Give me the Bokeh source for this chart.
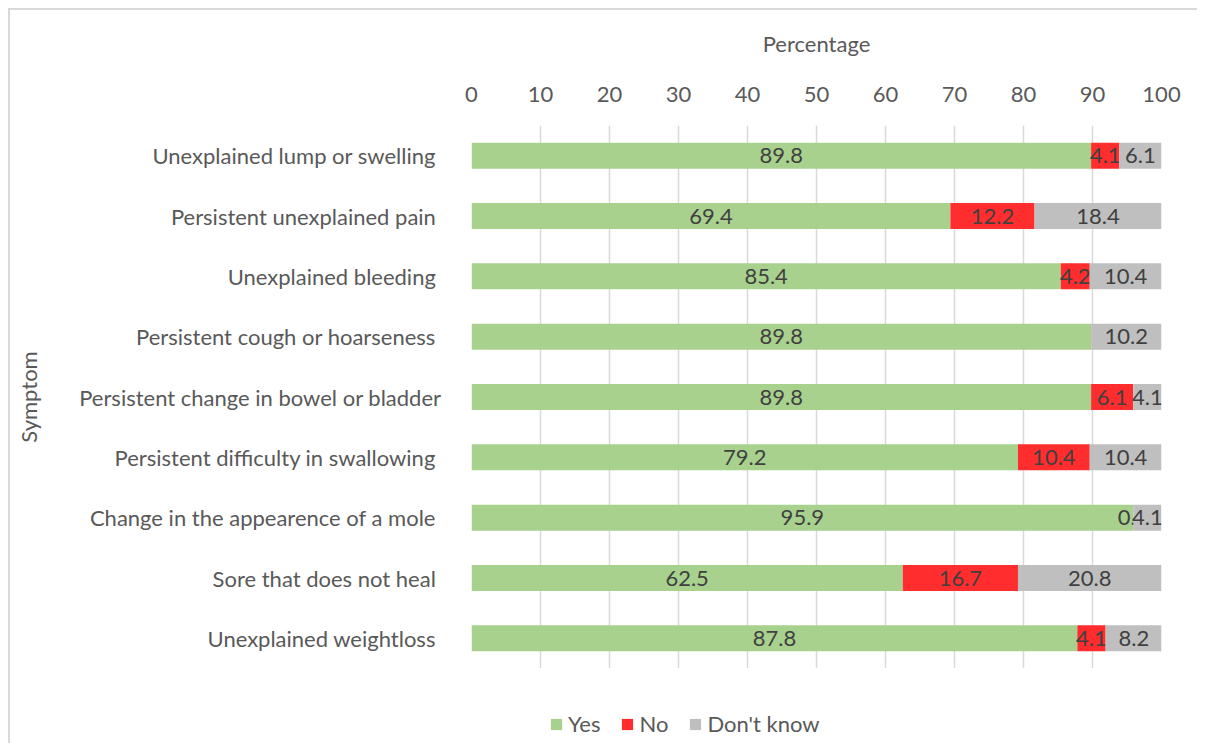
import math
from bokeh.plotting import figure
from bokeh.layouts import column
from bokeh.models import ColumnDataSource, Legend, LegendItem, FixedTicker
from bokeh.core.properties import value
from bokeh.embed import file_html
from bokeh.resources import INLINE

symptoms = [
    "Unexplained lump or swelling ",
    "Persistent unexplained pain ",
    "Unexplained bleeding ",
    "Persistent cough or hoarseness ",
    "Persistent change in bowel or bladder",
    "Persistent difficulty in swallowing ",
    "Change in the appearence of a mole ",
    "Sore that does not heal ",
    "Unexplained weightloss ",
]
yes = [89.8, 69.4, 85.4, 89.8, 89.8, 79.2, 95.9, 62.5, 87.8]
no = [4.1, 12.2, 4.2, float("nan"), 6.1, 10.4, 0.0, 16.7, 4.1]
dont_know = [6.1, 18.4, 10.4, 10.2, 4.1, 10.4, 4.1, 20.8, 8.2]
x_ticks = [0, 10, 20, 30, 40, 50, 60, 70, 80, 90, 100]

series = [("Yes", yes, "#A9D18E"), ("No", no, "#FF2D2D"), ("Don't know", dont_know, "#BFBFBF")]

FONT = "Lato"
FS = "22px"
TXT = "#595959"

p = figure(
    frame_width=690, frame_height=543,
    y_range=list(reversed(symptoms)),
    x_range=(0, 100),
    x_axis_location="above",
    output_backend="svg", toolbar_location=None,
    min_border_left=461, min_border_right=36, min_border_top=115, min_border_bottom=0,
)
p.outline_line_color = None
p.ygrid.grid_line_color = None
p.xgrid.grid_line_color = "#D9D9D9"
p.xgrid.grid_line_width = 1.5
p.xgrid.ticker = FixedTicker(ticks=x_ticks)
p.xaxis.ticker = FixedTicker(ticks=x_ticks)

for ax in (p.xaxis[0], p.yaxis[0]):
    ax.axis_line_color = None
    ax.major_tick_line_color = None
    ax.minor_tick_line_color = None
    ax.major_label_text_font = FONT
    ax.major_label_text_font_size = FS
    ax.major_label_text_color = TXT
    ax.axis_label_text_font = FONT
    ax.axis_label_text_font_size = FS
    ax.axis_label_text_color = TXT
    ax.axis_label_text_font_style = "normal"

p.xaxis.axis_label = "Percentage"
p.xaxis.major_label_standoff = 18
p.xaxis.axis_label_standoff = 27
p.yaxis.axis_label = "Symptom"
p.yaxis.major_label_standoff = 24
p.yaxis.axis_label_standoff = 34

# legend strip below the chart
lg = figure(
    width=1187, height=75,
    x_range=(0, 100), y_range=list(reversed(symptoms)),
    x_axis_type=None, y_axis_type=None,
    output_backend="svg", toolbar_location=None,
    min_border_left=0, min_border_right=0, min_border_top=0, min_border_bottom=0,
)
lg.outline_line_color = None
lg.grid.grid_line_color = None

n = len(symptoms)
left = [0.0] * n
items = []
for name, vals, color in series:
    widths = [0.0 if (v is None or math.isnan(v)) else v for v in vals]
    rights = [l + w for l, w in zip(left, widths)]
    src = ColumnDataSource(dict(y=symptoms, left=left, right=rights))
    p.hbar(y="y", left="left", right="right", height=0.43, source=src,
           fill_color=color, line_color=None)
    proxy = lg.hbar(y="y", left="left", right="right", height=0.43, source=src,
                    fill_color=color, line_color=None, visible=False)
    items.append(LegendItem(label=name, renderers=[proxy]))
    ly, lx, lt = [], [], []
    for s, l, rr, v in zip(symptoms, left, rights, vals):
        if v is None or math.isnan(v):
            continue
        ly.append(s)
        lx.append((l + rr) / 2)
        lt.append(f"{v:.1f}")
    p.text(x=lx, y=ly, text=lt, text_align="center", text_baseline="middle",
           text_font=value(FONT), text_font_size=FS, text_color="#404040")
    left = rights

legend = Legend(items=items, orientation="horizontal", location=(78, 6),
                label_text_font=FONT, label_text_font_size=FS, label_text_color=TXT,
                glyph_width=14, glyph_height=14, spacing=20, label_standoff=5,
                border_line_color=None, background_fill_alpha=0, margin=0, padding=0)
lg.add_layout(legend, "center")

layout = column(p, lg, spacing=0)
layout.styles = {"border-left": "2px solid #D9D9D9", "border-top": "2px solid #D9D9D9",
                 "margin-left": "8px", "margin-top": "8px"}

open("out.html", "w").write(file_html(layout, INLINE))
